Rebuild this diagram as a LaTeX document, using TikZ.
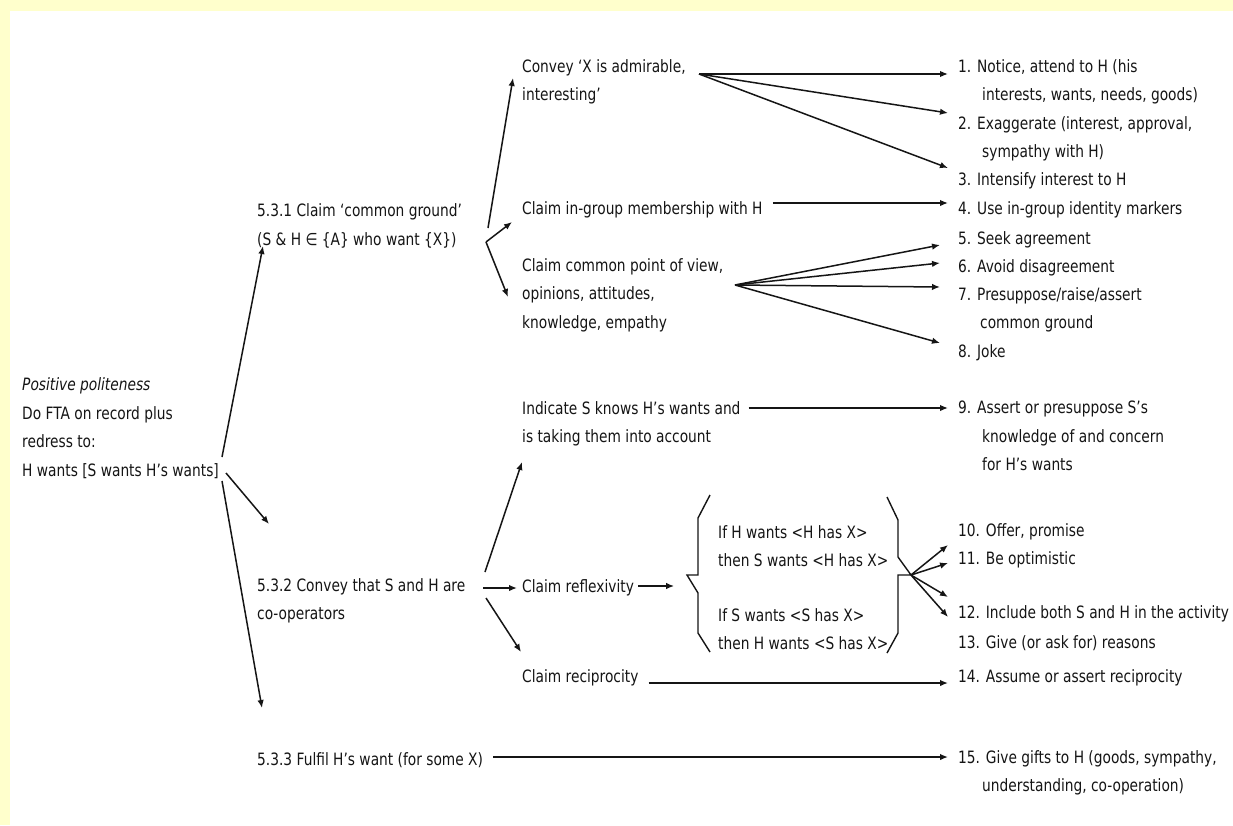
\documentclass[tikz,border=0pt]{standalone}
\usepackage{fontspec}
\setmainfont{DejaVu Sans}[FakeStretch=0.81]
\usetikzlibrary{arrows.meta,calc}
\definecolor{band}{HTML}{FFFFCC}
\definecolor{ink}{HTML}{151515}
\begin{document}
\begin{tikzpicture}[x=1pt,y=-1pt,
  txt/.style={anchor=west, align=left, inner sep=0pt, text=ink,
              font=\fontsize{17}{28.5}\selectfont},
  arr/.style={draw=ink, line width=1.5pt, -{Latex[length=8pt,width=6.5pt]}},
  ln/.style={draw=ink, line width=1.4pt}]
% page and frame band
\path[use as bounding box] (0,0) rectangle (1233,825);
\fill[white] (0,0) rectangle (1233,825);
\fill[band] (0,0) rectangle (1233,11);
\fill[band] (0,0) rectangle (10,825);

% root
\node[txt] (pp) at (22,428) {\textit{Positive politeness}\\Do FTA on record plus\\redress to:\\H wants [S wants H’s wants]};

% strategies
\node[txt] (c531) at (257,226) {5.3.1 Claim ‘common ground’\\(S \& H ∈ \{A\} who want \{X\})};
\node[txt] (c532) at (257,601) {5.3.2 Convey that S and H are\\co-operators};
\node[txt] (c533) at (257,760) {5.3.3 Fulfil H’s want (for some X)};

% sub-strategies
\node[txt] (convey) at (522,82) {Convey ‘X is admirable,\\interesting’};
\node[txt] (ingroup) at (522,210) {Claim in-group membership with H};
\node[txt] (commonpt) at (522,295) {Claim common point of view,\\opinions, attitudes,\\knowledge, empathy};
\node[txt] (indicate) at (522,424) {Indicate S knows H’s wants and\\is taking them into account};
\node[txt] (reflex) at (522,588) {Claim reflexivity};
\node[txt] (recip) at (522,678) {Claim reciprocity};
\node[txt] (cond1) at (718,546) {If H wants <H has X>\\then S wants <H has X>};
\node[txt] (cond2) at (718,629) {If S wants <S has X>\\then H wants <S has X>};

% output strategies
\node[txt] (i1) at (958,82) {1. Notice, attend to H (his\\\hspace*{24pt}interests, wants, needs, goods)};
\node[txt] (i2) at (958,139) {2. Exaggerate (interest, approval,\\\hspace*{24pt}sympathy with H)};
\node[txt] (i3) at (958,181) {3. Intensify interest to H};
\node[txt] (i4) at (958,210) {4. Use in-group identity markers};
\node[txt] (i5) at (958,240) {5. Seek agreement};
\node[txt] (i6) at (958,268) {6. Avoid disagreement};
\node[txt] (i7) at (958,310) {7. Presuppose/raise/assert\\\hspace*{22pt}common ground};
\node[txt] (i8) at (958,353) {8. Joke};
\node[txt] (i9) at (958,436) {9. Assert or presuppose S’s\\\hspace*{24pt}knowledge of and concern\\\hspace*{24pt}for H’s wants};
\node[txt] (i10) at (958,532) {10. Offer, promise};
\node[txt] (i11) at (958,560) {11. Be optimistic};
\node[txt] (i12) at (958,614) {12. Include both S and H in the activity};
\node[txt] (i13) at (958,643) {13. Give (or ask for) reasons};
\node[txt] (i14) at (958,678) {14. Assume or assert reciprocity};
\node[txt] (i15) at (958,773) {15. Give gifts to H (goods, sympathy,\\\hspace*{24pt}understanding, co-operation)};

% fan-out points
\coordinate (opp1) at (222,457);
\coordinate (opp2) at (226,473);
\coordinate (opp3) at (222,481);
\coordinate (t532) at (269,524);
\coordinate (t533) at (262,708);
\coordinate (o531a) at (488,228);
\coordinate (o531b) at (486,242);
\coordinate (oconv) at (699,74);
\coordinate (ocom) at (735,285);
\coordinate (o532a) at (485,572);
\coordinate (o532b) at (483,588);
\coordinate (o532c) at (486,598);
\coordinate (btip) at (911,575);

% root to strategies
\draw[arr] (opp1) -- ($(c531.west)+(6,20)$);
\draw[arr] (opp2) -- (t532);
\draw[arr] (opp3) -- (t533);

% 5.3.1
\draw[arr] (o531a) -- ($(convey.west)+(-9,-4)$);
\draw[arr] (o531b) -- ($(ingroup.west)+(-10,12)$);
\draw[arr] (o531b) -- ($(commonpt.west)+(-14,2)$);

\draw[arr] (oconv) -- ($(i1.west)+(-10,-8)$);
\draw[arr] (oconv) -- ($(i2.west)+(-10,-26)$);
\draw[arr] (oconv) -- ($(i3.west)+(-10,-13)$);
\draw[arr] ($(ingroup.east)+(10,-7)$) -- ($(i4.west)+(-10,-7)$);
\draw[arr] (ocom) -- ($(i5.west)+(-18,5)$);
\draw[arr] (ocom) -- ($(i6.west)+(-18,-5)$);
\draw[arr] (ocom) -- ($(i7.west)+(-18,-23)$);
\draw[arr] (ocom) -- ($(i8.west)+(-18,-10)$);

% 5.3.2
\draw[arr] (o532a) -- ($(indicate.west)+(0,38)$);
\draw[arr] (o532b) -- ($(reflex.west)+(-5,0)$);
\draw[arr] (o532c) -- ($(recip.west)+(-1,-26)$);
\draw[arr] ($(indicate.east)+(8,-16)$) -- ($(i9.west)+(-10,-28)$);
\draw[arr] ($(reflex.east)+(4,-2)$) -- ($(reflex.east)+(40,-2)$);

% braces around the two conditions
\draw[ln] (710,495) -- (698,518) -- (698,575) -- (687,575) -- (698,593) -- (698,633) -- (710,652);
\draw[ln] (887,497) -- (898,520) -- (898,557) -- (911,575) -- (898,575) -- (898,633) -- (887,653);

\draw[arr] (btip) -- ($(i10.west)+(-10,13)$);
\draw[arr] (btip) -- ($(i11.west)+(-10,3)$);
\draw[arr] (btip) -- ($(i12.west)+(-10,-17)$);
\draw[arr] (btip) -- ($(i13.west)+(-10,-26)$);

\draw[arr] ($(recip.east)+(10,5)$) -- ($(i14.west)+(-10,5)$);

% 5.3.3
\draw[arr] ($(c533.east)+(10,-3)$) -- ($(i15.west)+(-10,-16)$);
\end{tikzpicture}
\end{document}
